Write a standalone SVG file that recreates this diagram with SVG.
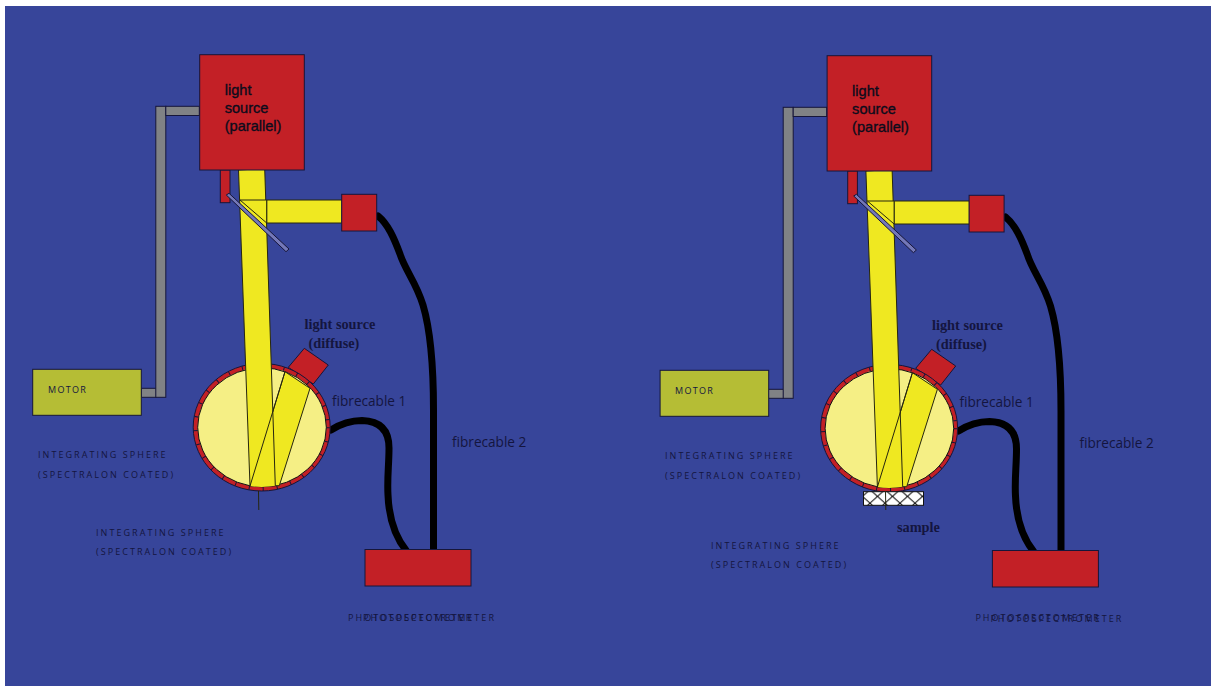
<svg xmlns="http://www.w3.org/2000/svg" width="1211" height="686" viewBox="0 0 1211 686">
<style>
.o{stroke:#16163a;stroke-width:1}
.red{fill:#c32026}
.gray{fill:#808285}
.yel{fill:#efe821}
.pale{fill:#f5ef85;stroke:#111;stroke-width:1}
.beam{fill:#efe821;stroke:#26260f;stroke-width:1}
.edge{fill:none;stroke:#26260f;stroke-width:1}
.cable{fill:none;stroke:#000;stroke-width:7;stroke-linecap:round;stroke-linejoin:round}
.mirror{fill:#7478b8;stroke:#16163a;stroke-width:1}
.motor{fill:#b5bd35}
.ring{fill:#c32026;stroke:#16163a;stroke-width:1}
.tick{fill:none;stroke:#16163a;stroke-width:4.5;stroke-dasharray:1 13}
.h{font-family:"Liberation Sans",Arial,sans-serif;font-size:14.6px;fill:#0c0c1c;stroke:#0c0c1c;stroke-width:.35}
.b{font-family:"Liberation Serif","Times New Roman",serif;font-weight:bold;font-size:14.3px;fill:#14153f}
.f{font-family:"Open Sans","Noto Sans",sans-serif;font-size:13.6px;fill:#14153f}
.s{font-family:"Open Sans","Noto Sans",sans-serif;font-size:9px;letter-spacing:2.05px;fill:#14153f}
.m{font-family:"Open Sans","Noto Sans",sans-serif;font-size:9px;letter-spacing:1.3px;fill:#14153f}
</style>
<defs>
<pattern id="hatch" width="15" height="13.6" patternUnits="userSpaceOnUse">
<rect width="15" height="13.6" fill="#fff"/>
<path d="M0 0L15 13.6M15 0L0 13.6" stroke="#111" stroke-width="1" fill="none"/>
</pattern>
</defs>
<rect id="background" x="5" y="6" width="1206" height="680" fill="#37459a"/>

<g id="connectors">
<g id="arm-left" class="o">
<rect class="gray" x="141.3" y="388.3" width="15" height="9"/>
<rect class="gray" x="155.8" y="106.3" width="10" height="291"/>
<rect class="gray" x="165.8" y="106.3" width="33.5" height="9.2"/>
</g>
<g id="arm-right" class="o">
<rect class="gray" x="768.5" y="389.3" width="15" height="9"/>
<rect class="gray" x="783.2" y="107.3" width="10" height="291"/>
<rect class="gray" x="793.2" y="107.3" width="33.5" height="9.2"/>
</g>
<path id="cable2-left" class="cable" d="M378 216C388 224 394 238 400 254C405 270 416 282 423 305C431 332 433.500 370 433.500 410L433.500 550"/>
<path id="cable1-left" class="cable" d="M331 430C342 423 352 420.500 362 420.500C380 421 389 430 389 448C389 465 387 478 388 495C389 520 396 538 406.500 551"/>
<path id="cable2-right" class="cable" d="M1005.500 217C1015.500 225 1021.500 239 1027.500 255C1032.500 271 1043.500 283 1050.500 306C1058.500 333 1061 371 1061 411L1061 551"/>
<path id="cable1-right" class="cable" d="M958.500 431C969.500 424 979.500 421.500 989.500 421.500C1007.500 422 1016.500 431 1016.500 449C1016.500 466 1014.500 479 1015.500 496C1016.500 521 1023.500 539 1034 552"/>
</g>

<g id="motor-left">
<rect class="motor o" x="32.700" y="369.300" width="108.600" height="46"/>
<text class="m" x="48" y="393">MOTOR</text>
</g>
<g id="diffuse-source-left">
<polygon class="red o" points="304.300,348.300 328.300,365 313.300,384 288.300,367.300"/>
<text class="b" x="304.500" y="329">light source</text>
<text class="b" x="308.500" y="348">(diffuse)</text>
</g>
<g id="sphere-left">
<ellipse class="ring" cx="261.700" cy="427.200" rx="68.500" ry="63.800"/>
<ellipse class="tick" cx="261.700" cy="427.200" rx="66" ry="61.500"/>
<ellipse class="pale" cx="262" cy="427.300" rx="64.300" ry="59.500"/>
<polygon class="beam" points="285,371.700 310,388.300 279.300,485.700 250,486"/>
<path class="yel" d="M238.500 170L264.700 168.500L275.300 485.800Q262 488 250 486Z"/>
<path class="edge" d="M238.500 170L250 486M264.700 168.500L275.300 485.800M238.500 170L264.700 168.500"/>
<path class="edge" d="M285 371.700L250 486M258.500 491L258.800 510"/>
</g>
<g id="beamsplitter-left">
<rect class="red o" x="220.300" y="170" width="9.700" height="32.700"/>
<polygon class="beam" points="266.700,200 342,200 342,223 266.700,223"/>
<polygon class="beam" points="240,200 266.700,200 266.700,223"/>
<polygon class="mirror" points="226.300,195 229,193.300 289,249 286,251.700"/>
</g>
<g id="light-source-left">
<rect class="red o" x="199.700" y="54.700" width="104.600" height="115.300"/>
<text class="h" x="224.700" y="95">light</text>
<text class="h" x="224.700" y="113">source</text>
<text class="h" x="224.700" y="130.500">(parallel)</text>
</g>
<g id="detector-left"><rect class="red o" x="341.700" y="194.300" width="35" height="36.700"/></g>
<g id="spectrometer-left">
<rect class="red o" x="365" y="549.500" width="106" height="36.500"/>
<text class="m" style="letter-spacing:2.05px" x="348" y="620.500">PHOTOSPECTOMETER</text>
<text class="m" style="letter-spacing:2.05px" x="363" y="621">PHOTOSPECTROMETER</text>
</g>
<g id="labels-left">
<text class="f" x="332" y="406">fibrecable 1</text>
<text class="f" x="452" y="447">fibrecable 2</text>
<text class="s" x="38" y="458">INTEGRATING SPHERE</text>
<text class="s" x="38" y="478">(SPECTRALON COATED)</text>
<text class="s" x="96" y="536">INTEGRATING SPHERE</text>
<text class="s" x="96" y="555">(SPECTRALON COATED)</text>
</g>

<g id="motor-right">
<rect class="motor o" x="660.100" y="370.300" width="108.600" height="46"/>
<text class="m" x="675" y="394">MOTOR</text>
</g>
<g id="diffuse-source-right">
<polygon class="red o" points="931.700,349.300 955.700,366 940.700,385 915.700,368.300"/>
<text class="b" x="932" y="330">light source</text>
<text class="b" x="936" y="349">(diffuse)</text>
</g>
<g id="sphere-right">
<ellipse class="ring" cx="889.100" cy="428.200" rx="68.500" ry="63.800"/>
<ellipse class="tick" cx="889.100" cy="428.200" rx="66" ry="61.500"/>
<ellipse class="pale" cx="889.400" cy="428.300" rx="64.300" ry="59.500"/>
<polygon class="beam" points="912.400,372.700 937.400,389.300 906.700,486.700 877.400,487"/>
<path class="yel" d="M865.900 171L892.100 169.500L902.700 486.800Q889.400 489 877.400 487Z"/>
<path class="edge" d="M865.900 171L877.400 487M892.100 169.500L902.700 486.800M865.900 171L892.100 169.500"/>
<path class="edge" d="M912.400 372.700L877.400 487"/>
</g>
<g id="sample-right">
<rect x="863.500" y="491.700" width="60" height="13.600" fill="url(#hatch)" stroke="#111" stroke-width="1"/>
<path class="edge" d="M885.500 491L885.800 510"/>
<text class="b" x="897" y="532">sample</text>
</g>
<g id="beamsplitter-right">
<rect class="red o" x="847.700" y="171" width="9.700" height="32.700"/>
<polygon class="beam" points="894.100,201 969.400,201 969.400,224 894.100,224"/>
<polygon class="beam" points="867.400,201 894.100,201 894.100,224"/>
<polygon class="mirror" points="853.700,196 856.400,194.300 916.400,250 913.400,252.700"/>
</g>
<g id="light-source-right">
<rect class="red o" x="827.100" y="55.700" width="104.600" height="115.300"/>
<text class="h" x="852.100" y="96">light</text>
<text class="h" x="852.100" y="114">source</text>
<text class="h" x="852.100" y="131.500">(parallel)</text>
</g>
<g id="detector-right"><rect class="red o" x="969.100" y="195.300" width="35" height="36.700"/></g>
<g id="spectrometer-right">
<rect class="red o" x="992.400" y="550.500" width="106" height="36.500"/>
<text class="m" style="letter-spacing:2.05px" x="975.400" y="621">PHOTOSPECTOMETER</text>
<text class="m" style="letter-spacing:2.05px" x="990.400" y="621.500">PHOTOSPECTROMETER</text>
</g>
<g id="labels-right">
<text class="f" x="959.400" y="407">fibrecable 1</text>
<text class="f" x="1079.400" y="448">fibrecable 2</text>
<text class="s" x="665" y="459">INTEGRATING SPHERE</text>
<text class="s" x="665" y="479">(SPECTRALON COATED)</text>
<text class="s" x="711" y="549">INTEGRATING SPHERE</text>
<text class="s" x="711" y="568">(SPECTRALON COATED)</text>
</g>
</svg>
